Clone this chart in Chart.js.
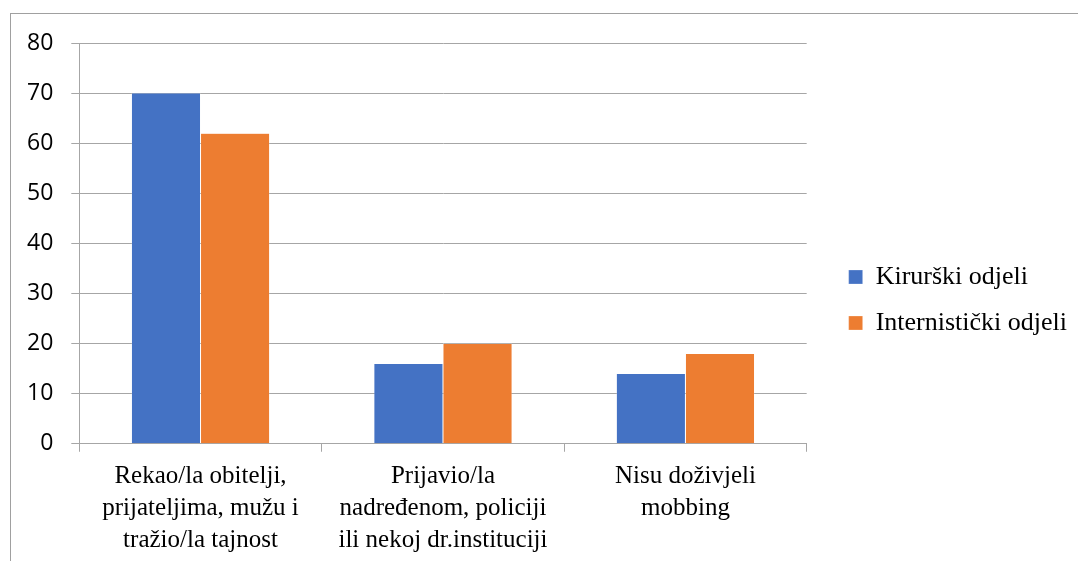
<!DOCTYPE html>
<html>
<head>
<meta charset="utf-8">
<script src="https://cdn.jsdelivr.net/npm/chart.js@4.4.0/dist/chart.umd.min.js"></script>
<style>
    html, body { margin: 0; padding: 0; background: #fff; overflow: hidden; }
    #frame {
        position: absolute; left: 10px; top: 13px;
        width: 1200px; height: 700px;
        border: 1px solid #a0a0a0;
    }
    #wrap { position: absolute; left: 0; top: 0; width: 1078px; height: 561px; }
</style>
</head>
<body>
<div id="frame"></div>
<div id="wrap"><canvas id="mobbingChart"></canvas></div>
<script>
// ========================================
// Kome su se obratili - kirurški vs internistički odjeli
// ========================================

const categories = [
    ['Rekao/la obitelji,', 'prijateljima, mužu i', 'tražio/la tajnost'],
    ['Prijavio/la', 'nadređenom, policiji', 'ili nekoj dr.instituciji'],
    ['Nisu doživjeli', 'mobbing']
];
const kirurski = [70, 16, 14];
const internisticki = [62, 20, 18];
const yTicks = [0, 10, 20, 30, 40, 50, 60, 70, 80];

const gridColor = '#a6a6a6';
const serif = '"Liberation Serif", "Times New Roman", serif';

// pomakni legendu desno od ruba grafa
const legendShift = {
    id: 'legendShift',
    afterLayout(chart) {
        const lg = chart.legend;
        if (!lg) return;
        const dx = 42 - lg.options.labels.padding;
        lg.left += dx;
        lg.right += dx;
        lg.top -= 4;
        lg.bottom -= 4;
    }
};

const ctx = document.getElementById('mobbingChart');

new Chart(ctx.getContext('2d'), {
    type: 'bar',
    data: {
        labels: categories,
        datasets: [
            {
                label: 'Kirurški odjeli',
                data: kirurski,
                backgroundColor: '#4472c4',
                borderColor: 'rgba(255,255,255,0.5)',
                borderWidth: 0.5
            },
            {
                label: 'Internistički odjeli',
                data: internisticki,
                backgroundColor: '#ed7d31',
                borderColor: 'rgba(255,255,255,0.5)',
                borderWidth: 0.5
            }
        ]
    },
    options: {
        responsive: true,
        maintainAspectRatio: false,
        animation: false,
        categoryPercentage: 0.57,
        barPercentage: 1,
        layout: {
            padding: { left: 9, top: 43, right: 23, bottom: -4 }
        },
        plugins: {
            tooltip: { enabled: false },
            legend: {
                position: 'right',
                labels: {
                    boxWidth: 14,
                    boxHeight: 14,
                    padding: 20,
                    color: '#000',
                    font: { family: serif, size: 26 }
                }
            }
        },
        scales: {
            x: {
                offset: true,
                grid: {
                    offset: true,
                    drawOnChartArea: false,
                    color: gridColor,
                    tickLength: 8
                },
                border: { color: gridColor },
                ticks: {
                    color: '#000',
                    maxRotation: 0,
                    padding: 9,
                    font: { family: serif, size: 25, lineHeight: 1.27 }
                }
            },
            y: {
                min: 0,
                max: 80,
                afterBuildTicks: (axis) => {
                    axis.ticks = yTicks.map(v => ({ value: v }));
                },
                grid: {
                    color: gridColor,
                    tickLength: 8
                },
                border: { color: gridColor },
                ticks: {
                    color: '#000',
                    padding: 18,
                    font: { family: '"Open Sans", "Liberation Sans", sans-serif', size: 23 }
                }
            }
        }
    },
    plugins: [legendShift]
});
</script>
</body>
</html>
